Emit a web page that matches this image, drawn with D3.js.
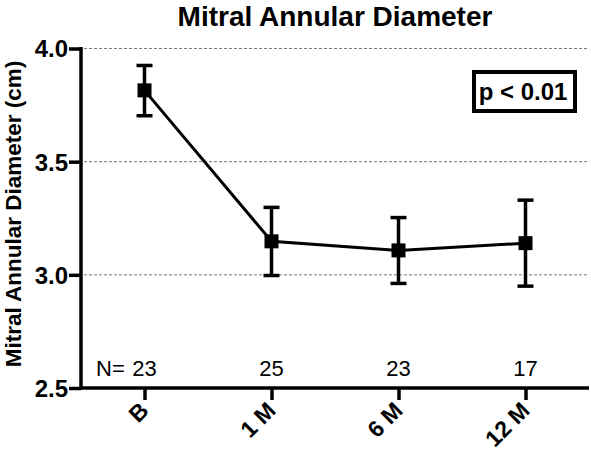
<!DOCTYPE html>
<html><head><meta charset="utf-8">
<script src="https://cdn.jsdelivr.net/npm/d3@7"></script>
<style>body{margin:0;background:#fff}svg{display:block}text{font-family:"Liberation Sans",Arial,sans-serif}</style>
</head><body>
<script>
const categories = ["B", "1 M", "6 M", "12 M"];
const means = [3.815, 3.148, 3.108, 3.140];
const upper = [3.925, 3.298, 3.253, 3.330];
const lower = [3.703, 2.997, 2.962, 2.950];
const nCounts = [23, 25, 23, 17];
const yTicks = [2.5, 3.0, 3.5, 4.0];
const gridValues = [3.0, 3.5, 4.0];
const title = "Mitral Annular Diameter";
const yLabel = "Mitral Annular Diameter (cm)";
const pText = "p < 0.01";

const W = 591, H = 456;
const svg = d3.select("body").append("svg").attr("width", W).attr("height", H);
const x = d3.scaleLinear().domain([-0.5, 3.5]).range([81, 589]);
const y = d3.scaleLinear().domain([2.5, 4.0]).range([388, 48.5]);

// gridlines
svg.append("g").selectAll("line").data(gridValues).join("line")
  .attr("x1", 84).attr("x2", 589).attr("y1", d => y(d)).attr("y2", d => y(d))
  .attr("stroke", "#555").attr("stroke-width", 0.8).attr("stroke-dasharray", "3,2");

// y axis
const yAxis = svg.append("g").attr("transform", "translate(81,0)")
  .call(d3.axisLeft(y).tickValues(yTicks).tickFormat(d3.format(".1f")).tickSize(12).tickPadding(1));
yAxis.select(".domain").attr("stroke-width", 3.5).attr("d", `M0,${y(4.0)-1.5}V${y(2.5)+1.5}`);
yAxis.selectAll(".tick line").attr("stroke-width", 3.5);
yAxis.selectAll(".tick text").attr("font-size", 24).attr("font-weight", "bold").attr("fill", "#000")
  .attr("font-family", '"Liberation Sans",Arial,sans-serif').attr("dy", "0.35em");

// x axis
const xAxis = svg.append("g").attr("transform", "translate(0,388)")
  .call(d3.axisBottom(x).tickValues([0,1,2,3]).tickFormat(i => categories[i]).tickSize(12));
xAxis.select(".domain").attr("stroke-width", 3.5).attr("d", `M79.5,0H589`);
xAxis.selectAll(".tick line").attr("stroke-width", 3.5);
xAxis.selectAll(".tick text").attr("font-size", 23).attr("font-weight", "bold").attr("fill", "#000")
  .attr("font-family", '"Liberation Sans",Arial,sans-serif')
  .attr("text-anchor", "end").attr("dy", null).attr("y", 0)
  .attr("transform", "translate(5,24) rotate(-45)");

// N counts
svg.append("text").attr("x", 96).attr("y", 376).attr("font-size", 22).text("N=");
svg.append("g").selectAll("text").data(nCounts).join("text")
  .attr("x", (d, i) => x(i)).attr("y", 376).attr("text-anchor", "middle").attr("font-size", 22)
  .text(d => d);

// line
svg.append("path").datum(means)
  .attr("d", d3.line().x((d, i) => x(i)).y(d => y(d)))
  .attr("fill", "none").attr("stroke", "#000").attr("stroke-width", 3);

// error bars
const eb = svg.append("g").selectAll("g").data(categories).join("g");
eb.append("line").attr("x1", (d, i) => x(i)).attr("x2", (d, i) => x(i))
  .attr("y1", (d, i) => y(upper[i])).attr("y2", (d, i) => y(lower[i]))
  .attr("stroke", "#000").attr("stroke-width", 3.5);
eb.append("line").attr("x1", (d, i) => x(i) - 8).attr("x2", (d, i) => x(i) + 8)
  .attr("y1", (d, i) => y(upper[i])).attr("y2", (d, i) => y(upper[i]))
  .attr("stroke", "#000").attr("stroke-width", 3.5);
eb.append("line").attr("x1", (d, i) => x(i) - 8).attr("x2", (d, i) => x(i) + 8)
  .attr("y1", (d, i) => y(lower[i])).attr("y2", (d, i) => y(lower[i]))
  .attr("stroke", "#000").attr("stroke-width", 3.5);
eb.append("rect").attr("x", (d, i) => x(i) - 7).attr("y", (d, i) => y(means[i]) - 7)
  .attr("width", 14).attr("height", 14).attr("fill", "#000");

// title
svg.append("text").attr("x", 335).attr("y", 26).attr("text-anchor", "middle")
  .attr("font-size", 28).attr("font-weight", "bold").text(title);

// y label
svg.append("text").attr("transform", "translate(21,214) rotate(-90)").attr("text-anchor", "middle")
  .attr("font-size", 22.5).attr("font-weight", "bold").text(yLabel);

// p box
svg.append("rect").attr("x", 474).attr("y", 72).attr("width", 101).attr("height", 39)
  .attr("fill", "#fff").attr("stroke", "#000").attr("stroke-width", 4);
svg.append("text").attr("x", 523).attr("y", 100).attr("text-anchor", "middle")
  .attr("font-size", 24).attr("font-weight", "bold").text(pText);
</script>
</body></html>
